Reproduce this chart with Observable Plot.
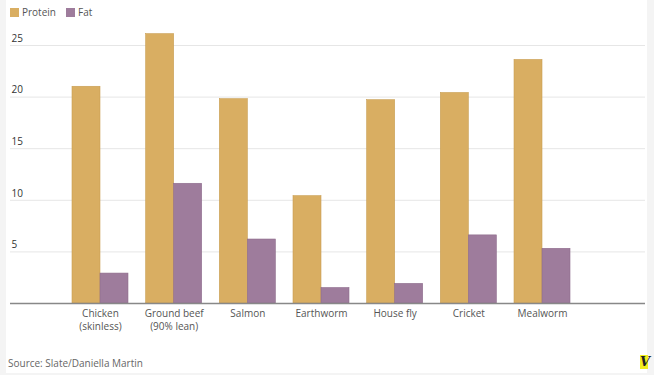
<!DOCTYPE html>
<html>
<head>
<meta charset="utf-8">
<script src="https://cdn.jsdelivr.net/npm/d3@7"></script>
<script src="https://cdn.jsdelivr.net/npm/@observablehq/plot@0.6"></script>
<style>
  html, body { margin: 0; padding: 0; background: #f4f4f4; width: 654px; height: 375px; overflow: hidden; }
  body { position: relative; font-family: "Open Sans", "DejaVu Sans", sans-serif; }
  #frame { position: absolute; left: 6px; top: 0; width: 641px; height: 373px; background: #fff; }
  #legend { position: absolute; left: 10px; top: 5px; font-size: 10px; color: #555; display: flex; align-items: center; }
  #legend .sw { display: inline-block; width: 9px; height: 9px; margin-right: 3px; }
  #legend .item { display: flex; align-items: center; margin-right: 10px; }
  #chart { position: absolute; left: 0; top: 22px; width: 654px; height: 320px; }
  #chart svg { max-width: none; }
  #source { position: absolute; left: 8px; top: 356px; font-size: 10px; color: #666; }
  #logo { position: absolute; left: 640px; top: 355px; width: 8px; height: 14px; background: #f2ee1c; color: #222; font-weight: bold; font-style: italic; font-size: 13px; line-height: 14px; text-align: center; font-family: "DejaVu Serif", serif; }
</style>
</head>
<body>
<div id="frame"></div>
<div id="legend"></div>
<div id="chart"></div>
<div id="source">Source: Slate/Daniella Martin</div>
<div id="logo">V</div>
<script>
const categories = ["Chicken (skinless)", "Ground beef (90% lean)", "Salmon", "Earthworm", "House fly", "Cricket", "Mealworm"];
const labels = ["Chicken\n(skinless)", "Ground beef\n(90% lean)", "Salmon", "Earthworm", "House fly", "Cricket", "Mealworm"];
const protein = [21, 26.1, 19.8, 10.4, 19.7, 20.4, 23.6];
const fat = [2.9, 11.6, 6.2, 1.5, 1.9, 6.6, 5.3];
const yTicks = [5, 10, 15, 20, 25];
const seriesNames = ["Protein", "Fat"];
const seriesColors = ["#d9ae62", "#9e7c9c"];
const seriesStrokes = ["#c99e52", "#8e6c8c"];

const legend = document.getElementById("legend");
seriesNames.forEach((n, i) => {
  const it = document.createElement("span");
  it.className = "item";
  it.innerHTML = `<span class="sw" style="background:${seriesColors[i]}"></span>${n}`;
  legend.appendChild(it);
});

const rows = categories.map((c, i) => ({category: c, label: labels[i], protein: protein[i], fat: fat[i]}));

const plot = Plot.plot({
  width: 654,
  height: 320,
  marginLeft: 10,
  marginRight: 9,
  marginTop: 0,
  marginBottom: 0,
  style: {fontFamily: "'Open Sans', 'DejaVu Sans', sans-serif", background: "transparent", maxWidth: "none"},
  x: {domain: categories, range: [72, 570], paddingInner: 0.24, paddingOuter: 0, round: false, axis: null},
  y: {domain: [0, 25], range: [281, 23], axis: null},
  marks: [
    Plot.ruleY(yTicks, {stroke: "#e6e6e6", strokeWidth: 1}),
    Plot.text(yTicks, {y: d => d, text: d => String(d), frameAnchor: "left", textAnchor: "start", dx: 1, dy: -7, fontSize: 10, fill: "#333"}),
    Plot.barY(rows, {x: "category", y: "protein", fill: seriesColors[0], stroke: seriesStrokes[0], strokeWidth: 0.6, insetRight: 28}),
    Plot.barY(rows, {x: "category", y: "fat", fill: seriesColors[1], stroke: seriesStrokes[1], strokeWidth: 0.6, insetLeft: 28}),
    Plot.ruleY([0], {stroke: "#888", strokeWidth: 1.5}),
    Plot.text(rows, {x: "category", y: 0, text: "label", lineAnchor: "top", dy: 5, fontSize: 10, fill: "#555", lineHeight: 1.25})
  ]
});
document.getElementById("chart").appendChild(plot);
</script>
</body>
</html>
